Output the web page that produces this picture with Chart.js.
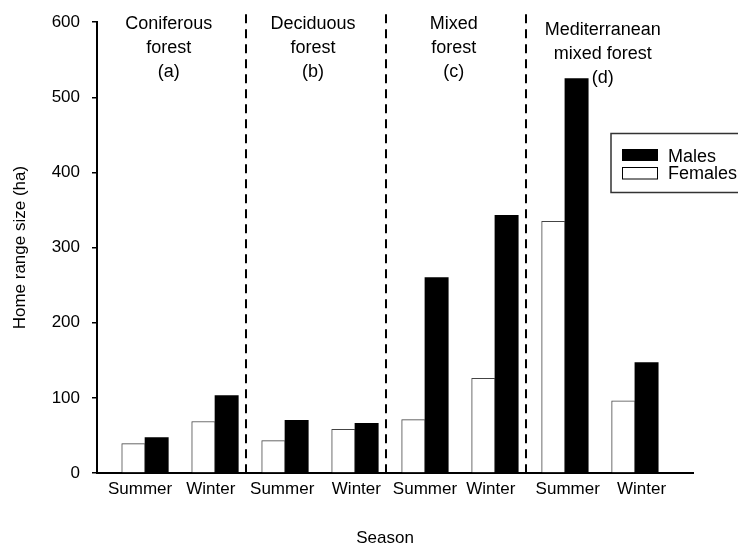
<!DOCTYPE html>
<html>
<head>
<meta charset="utf-8">
<script src="https://cdn.jsdelivr.net/npm/chart.js@4/dist/chart.umd.min.js"></script>
<style>
  html, body { margin: 0; padding: 0; background: #ffffff; }
  canvas { display: block; }
</style>
</head>
<body>
<canvas id="chart" width="738" height="544"></canvas>
<script>
// Season of each bar pair, left to right
const seasons = ['Summer', 'Winter', 'Summer', 'Winter', 'Summer', 'Winter', 'Summer', 'Winter'];
// Forest type heading of each panel (one text line per entry)
const forestTypes = [
  ['Coniferous', 'forest', '(a)'],
  ['Deciduous', 'forest', '(b)'],
  ['Mixed', 'forest', '(c)'],
  ['Mediterranean', 'mixed forest', '(d)']
];
// Home range size (ha)
const females = [39, 68.5, 43, 58, 71, 126, 335, 96];
const males = [47, 103, 70, 66, 260, 343, 525, 147];
const yTicks = [0, 100, 200, 300, 400, 500, 600];
const seriesNames = ['Males', 'Females'];

const FONT = "'Liberation Sans', Arial, sans-serif";
// small horizontal nudges of the season labels, in bar-slot units
const labelNudge = [-0.07, -0.06, -0.04, 0.02, 0, -0.06, 0.04, 0.095];

// Panel dividers, panel headings, legend box and the x axis title
const panelPlugin = {
  id: 'forestPanels',
  afterDraw(chart) {
    const { ctx, chartArea, scales } = chart;
    const x = scales.x;
    ctx.save();

    // dashed separators between forest types
    ctx.strokeStyle = '#000';
    ctx.lineWidth = 2;
    ctx.setLineDash([9, 6]);
    [1.44, 3.44, 5.44].forEach(v => {
      const px = Math.round(x.getPixelForValue(v));
      ctx.beginPath();
      ctx.moveTo(px, chartArea.top - 8);
      ctx.lineTo(px, chartArea.bottom);
      ctx.stroke();
    });
    ctx.setLineDash([]);

    // panel headings
    ctx.fillStyle = '#000';
    ctx.font = '18px ' + FONT;
    ctx.textAlign = 'center';
    ctx.textBaseline = 'alphabetic';
    const headAt = [0.34, 2.4, 4.41, 6.54];
    const headBase = [[29, 53, 77], [29, 53, 77], [29, 53, 77], [35, 58.5, 83]];
    forestTypes.forEach((lines, i) => {
      const cx = x.getPixelForValue(headAt[i]);
      lines.forEach((t, j) => ctx.fillText(t, cx, headBase[i][j]));
    });

    // legend
    const lx = 611, ly = 133.5;
    ctx.strokeStyle = '#333';
    ctx.lineWidth = 1.5;
    ctx.strokeRect(lx, ly, 150, 59);
    ctx.fillStyle = '#000';
    ctx.fillRect(lx + 11, ly + 15.5, 36, 12);
    ctx.fillStyle = '#fff';
    ctx.fillRect(lx + 11.5, ly + 34, 35, 11.5);
    ctx.strokeStyle = '#000';
    ctx.lineWidth = 1;
    ctx.strokeRect(lx + 11.5, ly + 34, 35, 11.5);
    ctx.fillStyle = '#000';
    ctx.textAlign = 'left';
    ctx.font = '18px ' + FONT;
    ctx.fillText(seriesNames[0], lx + 57, ly + 28);
    ctx.fillText(seriesNames[1], lx + 57, ly + 45.5);

    // x axis title
    ctx.font = '17px ' + FONT;
    ctx.textAlign = 'center';
    ctx.fillText('Season', x.getPixelForValue(3.43), 543);
    ctx.restore();
  }
};

new Chart(document.getElementById('chart'), {
  type: 'bar',
  data: {
    datasets: [
      {
        label: seriesNames[1],
        data: females.map((v, i) => ({ x: i, y: v })),
        backgroundColor: '#ffffff',
        borderColor: '#444444',
        borderWidth: 1
      },
      {
        label: seriesNames[0],
        data: males.map((v, i) => ({ x: i, y: v })),
        backgroundColor: '#000000',
        borderWidth: 0
      }
    ]
  },
  options: {
    responsive: false,
    animation: false,
    devicePixelRatio: 1,
    layout: { padding: { top: 22, right: 45, left: 0, bottom: 0 } },
    datasets: { bar: { barThickness: 23.3 } },
    plugins: { legend: { display: false }, tooltip: { enabled: false } },
    scales: {
      x: {
        type: 'linear',
        min: -0.686,
        max: 7.83,
        offset: false,
        grid: { display: false, drawTicks: false, tickLength: 0 },
        border: { display: true, color: '#000', width: 2 },
        ticks: {
          autoSkip: false,
          maxRotation: 0,
          padding: 6,
          color: '#000',
          font: { family: FONT, size: 17 },
          callback: (v, idx) => seasons[idx]
        },
        afterBuildTicks: (s) => { s.ticks = seasons.map((_, i) => ({ value: i + labelNudge[i] })); },
        afterFit: (s) => { s.height = 71; }
      },
      y: {
        min: 0,
        max: 600,
        grid: { drawOnChartArea: false, drawTicks: true, tickLength: 5, color: '#000', lineWidth: 1.5 },
        border: { display: true, color: '#000', width: 2 },
        ticks: {
          padding: 12,
          color: '#000',
          font: { family: FONT, size: 17 }
        },
        afterBuildTicks: (s) => { s.ticks = yTicks.map(v => ({ value: v })); },
        title: {
          display: true,
          text: 'Home range size (ha)',
          color: '#000',
          font: { family: FONT, size: 17 },
          padding: { top: 10, bottom: 0 }
        },
        afterFit: (s) => { s.width = 97; }
      }
    }
  },
  plugins: [panelPlugin]
});
</script>
</body>
</html>
